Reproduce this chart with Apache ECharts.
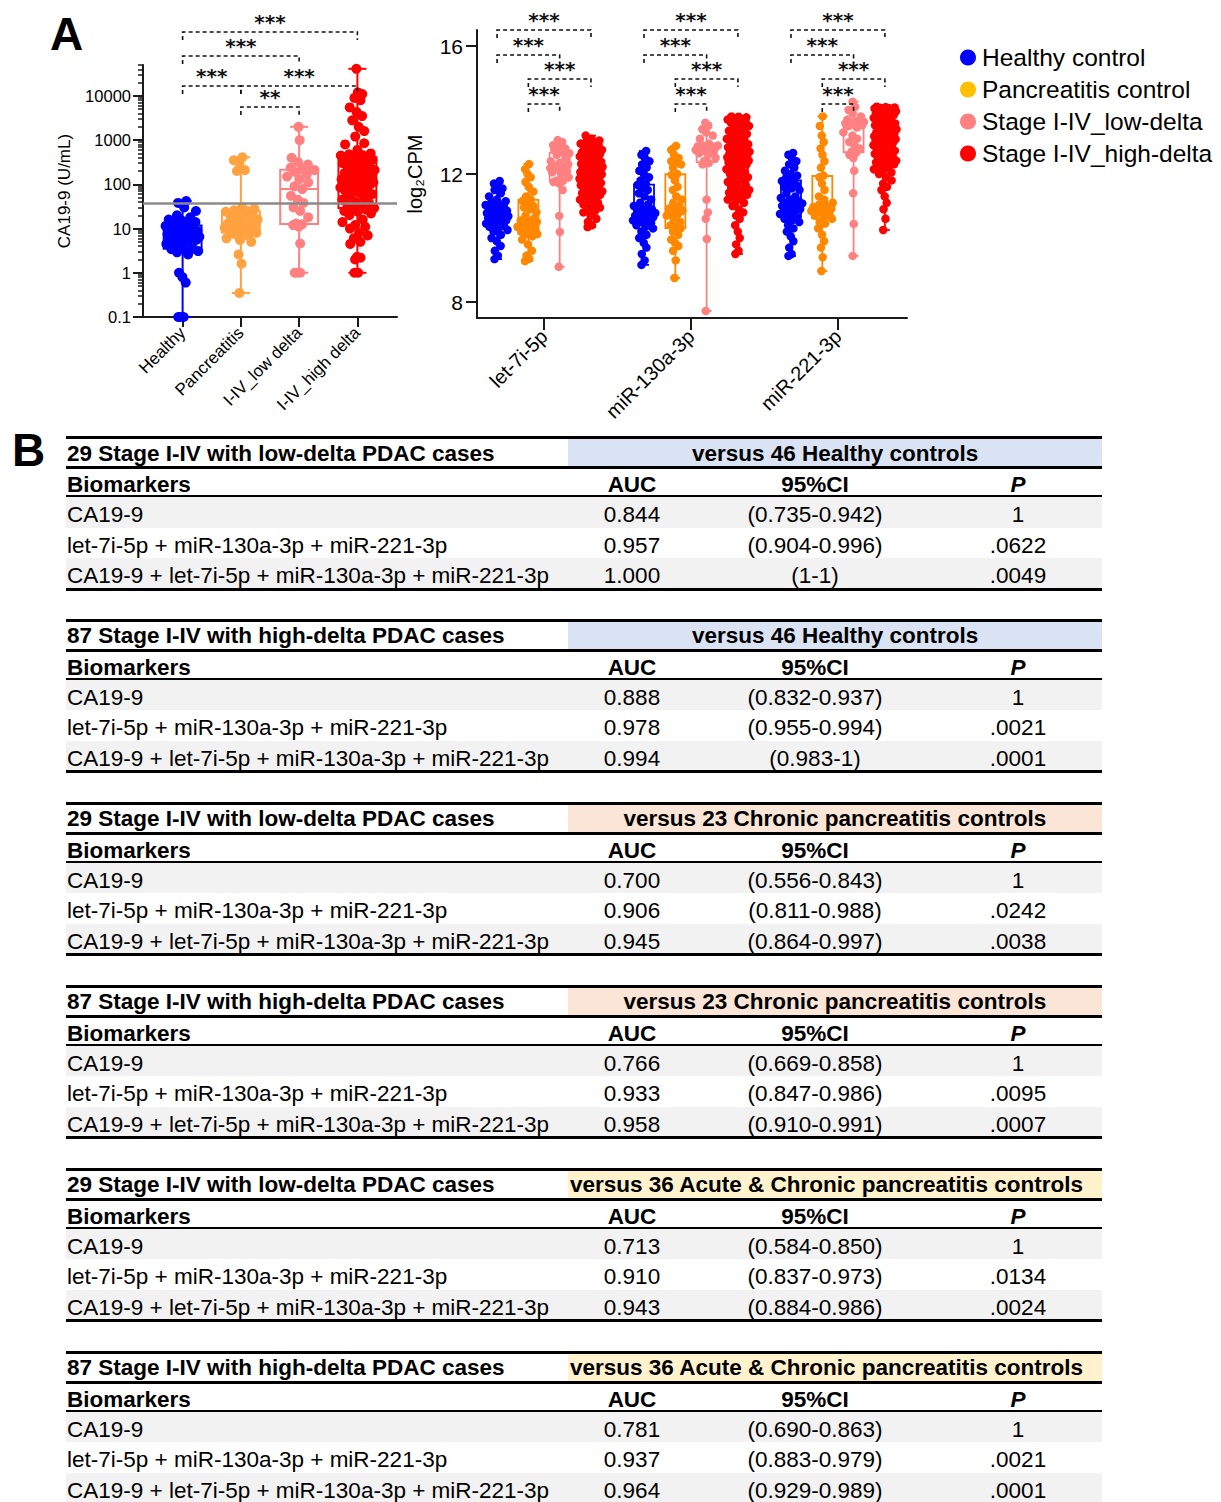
<!DOCTYPE html>
<html lang="en">
<head>
  <meta charset="utf-8">
  <title>CA19-9 and miRNA panel</title>
  <script src="https://cdn.jsdelivr.net/npm/echarts@6/dist/echarts.min.js"></script>
  <style>
    html, body { margin: 0; padding: 0; overflow: hidden; background: #fff; }
    body { width: 1221px; height: 1502px; position: relative; font-family: "Liberation Sans", Arial, sans-serif; color: #000; }
    #main { position: absolute; left: 0; top: 0; width: 1221px; height: 430px; }
    .panel { position: absolute; font-weight: bold; font-size: 46px; line-height: 46px; }
    .cell { position: absolute; height: 30px; line-height: 30px; font-size: 22.5px; white-space: nowrap; }
    .hline { position: absolute; background: #000; }
    .band { position: absolute; }
  </style>
</head>
<body>
<div id="main"></div>
<div class="panel" style="left:50px;top:11px">A</div>
<div class="panel" style="left:12px;top:427px">B</div>
<div id="tables"></div>

<script type="text/javascript">
// ---- panel A data ----
var caCategories = ['Healthy', 'Pancreatitis', 'I-IV_low delta', 'I-IV_high delta'];
var mirCategories = ['let-7i-5p', 'miR-130a-3p', 'miR-221-3p'];
var groupNames = ['Healthy control', 'Pancreatitis control', 'Stage I-IV_low-delta', 'Stage I-IV_high-delta'];
var caTicks = [0.1, 1, 10, 100, 1000, 10000];
var cpmTicks = [8, 12, 16];
var caCutoff = 37;

// CA19-9 (U/mL)
var caHealthy = [0.1, 0.1, 0.1, 0.6, 0.8, 1.0, 2.6, 2.9, 3.1, 3.3, 3.4, 3.5, 4.2, 4.5, 5.0, 5.2, 5.5, 5.8, 6.0, 6.2,
  6.4, 6.5, 6.6, 6.8, 7.0, 7.2, 7.5, 8.0, 8.3, 8.8, 9.0, 9.5, 10, 10.5, 11.5, 12.5, 13, 14, 15, 16,
  18, 20, 25, 30, 38, 42];
var caPancreatitis = [0.35, 1.6, 2.6, 5.0, 5.5, 6.0, 7.0, 7.5, 8.0, 8.5, 9.0, 9.5, 10, 10.5, 11, 11.5, 12, 12.5, 13, 14,
  15, 16, 17, 18, 20, 22, 24, 25, 26, 28, 30, 200, 210, 300, 350, 410];
var caLowDelta = [1.0, 1.0, 1.0, 4.6, 11, 12, 12.5, 13, 18, 25, 30, 38, 45, 55, 78, 90, 110, 130, 150, 170,
  190, 210, 220, 240, 280, 320, 400, 1000, 2000];
var caHighDelta = [1.0, 1.0, 2.0, 2.2, 2.3, 4.5, 5.0, 6.0, 7.0, 8.0, 10, 11, 12, 14, 16, 20, 22, 24, 25, 27,
  28, 29, 32, 35, 38, 40, 45, 50, 55, 60, 65, 70, 75, 80, 85, 90, 95, 100, 102, 104,
  106, 108, 110, 112, 115, 120, 125, 130, 140, 150, 160, 170, 180, 190, 200, 210, 220, 240, 260, 280,
  300, 320, 340, 360, 390, 410, 420, 430, 450, 460, 480, 500, 600, 800, 850, 1200, 1600, 2000, 2800, 3500,
  4300, 5500, 8000, 9000, 11000, 12000, 41000];

// log2CPM, let-7i-5p
var let7iHealthy = [9.34, 9.45, 9.6, 9.75, 9.9, 10.0, 10.1, 10.2, 10.25, 10.3, 10.35, 10.38, 10.4, 10.45, 10.5, 10.52,
  10.55, 10.6, 10.62, 10.65, 10.67, 10.68, 10.69, 10.7, 10.72, 10.75, 10.78, 10.8, 10.82, 10.85, 10.9, 10.95,
  10.98, 11.0, 11.03, 11.05, 11.1, 11.15, 11.2, 11.3, 11.4, 11.5, 11.55, 11.6, 11.7, 11.78];
var let7iPancreatitis = [9.28, 9.35, 9.45, 9.6, 9.8, 9.95, 10.05, 10.1, 10.12, 10.15, 10.2, 10.25, 10.3, 10.35, 10.4,
  10.45, 10.5, 10.52, 10.55, 10.6, 10.7, 10.8, 10.9, 10.95, 11.0, 11.1, 11.16, 11.2, 11.3, 11.45, 11.6, 11.75,
  11.9, 12.0, 12.15, 12.31];
var let7iLowDelta = [9.1, 10.19, 10.69, 11.5, 11.7, 11.75, 11.78, 11.8, 11.9, 12.0, 12.05, 12.1, 12.15, 12.18, 12.2,
  12.25, 12.3, 12.35, 12.4, 12.5, 12.6, 12.65, 12.69, 12.75, 12.8, 12.85, 12.9, 13.0, 13.06];
var let7iHighDelta = [10.34, 10.4, 10.5, 10.6, 10.7, 10.8, 10.85, 10.9, 10.95, 11.0, 11.05, 11.1, 11.15, 11.2, 11.25,
  11.3, 11.35, 11.38, 11.4, 11.42, 11.44, 11.46, 11.5, 11.55, 11.6, 11.62, 11.65, 11.68, 11.7, 11.72, 11.75, 11.78,
  11.8, 11.82, 11.85, 11.87, 11.9, 11.92, 11.94, 11.96, 11.97, 11.98, 11.99, 12.0, 12.01, 12.02, 12.04, 12.06,
  12.08, 12.1, 12.12, 12.14, 12.16, 12.18, 12.2, 12.22, 12.24, 12.26, 12.28, 12.3, 12.32, 12.34, 12.36, 12.38,
  12.4, 12.45, 12.5, 12.52, 12.55, 12.58, 12.6, 12.62, 12.65, 12.68, 12.7, 12.72, 12.75, 12.8, 12.85, 12.9,
  12.92, 12.95, 12.98, 13.0, 13.05, 13.1, 13.2];

// log2CPM, miR-130a-3p
var mir130aHealthy = [9.16, 9.3, 9.5, 9.7, 9.85, 10.0, 10.1, 10.2, 10.3, 10.35, 10.4, 10.47, 10.5, 10.55, 10.6, 10.62,
  10.65, 10.68, 10.7, 10.72, 10.75, 10.78, 10.82, 10.86, 10.9, 10.95, 11.0, 11.05, 11.1, 11.2, 11.3, 11.4, 11.5,
  11.55, 11.66, 11.7, 11.8, 11.9, 12.0, 12.1, 12.2, 12.3, 12.4, 12.5, 12.6, 12.72];
var mir130aPancreatitis = [8.75, 9.3, 9.6, 9.75, 9.85, 9.95, 10.1, 10.2, 10.3, 10.35, 10.4, 10.5, 10.6, 10.7, 10.75,
  10.8, 10.85, 10.9, 10.92, 11.0, 11.1, 11.2, 11.3, 11.5, 11.6, 11.8, 11.97, 12.0, 12.2, 12.3, 12.35, 12.4, 12.5,
  12.6, 12.75, 12.88];
var mir130aLowDelta = [7.72, 9.97, 10.6, 10.8, 11.2, 12.3, 12.34, 12.4, 12.5, 12.6, 12.65, 12.7, 12.72, 12.75, 12.8,
  12.82, 12.84, 12.86, 12.87, 12.87, 12.88, 12.89, 12.95, 13.1, 13.2, 13.3, 13.4, 13.5, 13.6];
var mir130aHighDelta = [9.5, 9.6, 9.8, 10.0, 10.2, 10.4, 10.6, 10.7, 10.8, 10.9, 11.0, 11.1, 11.15, 11.2, 11.25, 11.3,
  11.35, 11.4, 11.42, 11.45, 11.47, 11.5, 11.55, 11.6, 11.65, 11.7, 11.75, 11.8, 11.85, 11.9, 11.95, 12.0, 12.05,
  12.1, 12.15, 12.2, 12.25, 12.3, 12.33, 12.36, 12.38, 12.4, 12.42, 12.44, 12.46, 12.48, 12.5, 12.52, 12.55, 12.58,
  12.6, 12.62, 12.64, 12.66, 12.68, 12.7, 12.72, 12.75, 12.78, 12.8, 12.83, 12.86, 12.9, 12.93, 12.96, 13.0, 13.03,
  13.06, 13.1, 13.15, 13.2, 13.25, 13.3, 13.35, 13.4, 13.45, 13.5, 13.55, 13.6, 13.65, 13.68, 13.7, 13.72, 13.75,
  13.77, 13.79, 13.8];

// log2CPM, miR-221-3p
var mir221Healthy = [9.44, 9.5, 9.7, 9.9, 10.05, 10.2, 10.3, 10.4, 10.5, 10.55, 10.6, 10.66, 10.7, 10.75, 10.8, 10.85,
  10.9, 10.95, 11.0, 11.02, 11.05, 11.08, 11.1, 11.12, 11.15, 11.2, 11.25, 11.3, 11.4, 11.5, 11.55, 11.6, 11.65,
  11.7, 11.78, 11.85, 11.9, 11.95, 12.0, 12.1, 12.2, 12.3, 12.4, 12.5, 12.6, 12.66];
var mir221Pancreatitis = [8.97, 9.4, 9.7, 9.9, 10.1, 10.3, 10.45, 10.5, 10.6, 10.65, 10.7, 10.75, 10.8, 10.85, 10.88,
  10.9, 10.92, 10.95, 10.97, 11.0, 11.05, 11.1, 11.2, 11.3, 11.5, 11.7, 11.9, 11.95, 12.2, 12.4, 12.6, 12.8, 13.0,
  13.2, 13.5, 13.8];
var mir221LowDelta = [9.44, 10.44, 11.4, 12.1, 12.5, 12.6, 12.66, 12.7, 12.8, 12.9, 13.0, 13.1, 13.2, 13.3, 13.45,
  13.5, 13.52, 13.55, 13.58, 13.6, 13.62, 13.63, 13.65, 13.7, 13.8, 13.9, 14.0, 14.1, 14.26];
var mir221HighDelta = [10.25, 10.6, 10.9, 11.1, 11.3, 11.5, 11.6, 11.7, 11.8, 11.9, 12.0, 12.05, 12.1, 12.15, 12.2,
  12.25, 12.3, 12.33, 12.36, 12.38, 12.4, 12.42, 12.45, 12.5, 12.55, 12.6, 12.63, 12.66, 12.7, 12.73, 12.76, 12.8,
  12.83, 12.86, 12.9, 12.93, 12.96, 13.0, 13.02, 13.04, 13.06, 13.08, 13.09, 13.1, 13.12, 13.14, 13.16, 13.18, 13.2,
  13.22, 13.25, 13.28, 13.3, 13.33, 13.36, 13.4, 13.42, 13.45, 13.48, 13.5, 13.52, 13.54, 13.56, 13.58, 13.6, 13.62,
  13.65, 13.7, 13.75, 13.8, 13.82, 13.85, 13.87, 13.9, 13.92, 13.94, 13.96, 13.98, 14.0, 14.02, 14.03, 14.05, 14.06,
  14.07, 14.08, 14.09, 14.1];

// ---- panel B data ----
var tableCases = ['29 Stage I-IV with low-delta PDAC cases', '87 Stage I-IV with high-delta PDAC cases',
  '29 Stage I-IV with low-delta PDAC cases', '87 Stage I-IV with high-delta PDAC cases',
  '29 Stage I-IV with low-delta PDAC cases', '87 Stage I-IV with high-delta PDAC cases'];
var tableControls = ['versus 46 Healthy controls', 'versus 46 Healthy controls',
  'versus 23 Chronic pancreatitis controls', 'versus 23 Chronic pancreatitis controls',
  'versus 36 Acute & Chronic pancreatitis controls', 'versus 36 Acute & Chronic pancreatitis controls'];
var biomarkers = ['CA19-9', 'let-7i-5p + miR-130a-3p + miR-221-3p', 'CA19-9 + let-7i-5p + miR-130a-3p + miR-221-3p'];
var aucValues = [['0.844', '0.957', '1.000'], ['0.888', '0.978', '0.994'], ['0.700', '0.906', '0.945'],
  ['0.766', '0.933', '0.958'], ['0.713', '0.910', '0.943'], ['0.781', '0.937', '0.964']];
var ciValues = [['(0.735-0.942)', '(0.904-0.996)', '(1-1)'], ['(0.832-0.937)', '(0.955-0.994)', '(0.983-1)'],
  ['(0.556-0.843)', '(0.811-0.988)', '(0.864-0.997)'], ['(0.669-0.858)', '(0.847-0.986)', '(0.910-0.991)'],
  ['(0.584-0.850)', '(0.837-0.973)', '(0.884-0.986)'], ['(0.690-0.863)', '(0.883-0.979)', '(0.929-0.989)']];
var pValues = [['1', '.0622', '.0049'], ['1', '.0021', '.0001'], ['1', '.0242', '.0038'],
  ['1', '.0095', '.0007'], ['1', '.0134', '.0024'], ['1', '.0021', '.0001']];

// ---- styles ----
var caColors = ['#0000ff', '#ffa23f', '#ff8080', '#ff0000'];
var mirColors = ['#0000ff', '#ff8800', '#ff8080', '#ff0000'];
var legendColors = ['#0000ff', '#ffc000', '#ff8080', '#ff0000'];
var controlBg = ['#dae3f3', '#dae3f3', '#fbe5d6', '#fbe5d6', '#fff2cc', '#fff2cc'];
var FONT = '"Liberation Sans", Arial, sans-serif';

// quartiles, (n+1) method
function quant(s, p) {
  var pos = p * (s.length + 1) - 1;
  if (pos <= 0) return s[0];
  if (pos >= s.length - 1) return s[s.length - 1];
  var lo = Math.floor(pos);
  return s[lo] + (pos - lo) * (s[lo + 1] - s[lo]);
}
function boxStats(vals) {
  var s = vals.slice().sort(function (a, b) { return a - b; });
  return [s[0], quant(s, 0.25), quant(s, 0.5), quant(s, 0.75), s[s.length - 1]];
}
// horizontal scatter: wider where points are dense
function spread(vals, half, win, full) {
  return vals.map(function (v, i) {
    var n = 0;
    vals.forEach(function (w) { if (Math.abs(w - v) < win) n++; });
    var s = Math.min(1, n / full);
    var u = ((i * 0.618034) % 1) * 2 - 1;
    return u * s * half;
  });
}

function boxRenderer(colors, halfW, capW, lw) {
  return function (params, api) {
    var x = api.value(0);
    var lo = api.coord([x, api.value(1)]), q1 = api.coord([x, api.value(2)]);
    var md = api.coord([x, api.value(3)]), q3 = api.coord([x, api.value(4)]);
    var hi = api.coord([x, api.value(5)]);
    var xl = api.coord([x - halfW, api.value(3)])[0], xr = api.coord([x + halfW, api.value(3)])[0];
    var cl = api.coord([x - capW, api.value(3)])[0], cr = api.coord([x + capW, api.value(3)])[0];
    var st = { stroke: colors[api.value(6)], lineWidth: lw, fill: 'none' };
    return {
      type: 'group', children: [
        { type: 'rect', shape: { x: xl, y: q3[1], width: xr - xl, height: q1[1] - q3[1] }, style: st },
        { type: 'line', shape: { x1: xl, y1: md[1], x2: xr, y2: md[1] }, style: st },
        { type: 'line', shape: { x1: lo[0], y1: lo[1], x2: lo[0], y2: q1[1] }, style: st },
        { type: 'line', shape: { x1: hi[0], y1: q3[1], x2: hi[0], y2: hi[1] }, style: st },
        { type: 'line', shape: { x1: cl, y1: lo[1], x2: cr, y2: lo[1] }, style: st },
        { type: 'line', shape: { x1: cl, y1: hi[1], x2: cr, y2: hi[1] }, style: st }
      ]
    };
  };
}

function bracketRenderer(list) {
  return function (params, api) {
    var b = list[params.dataIndex];
    var xa = api.coord([b.from, 10])[0], xb = api.coord([b.to, 10])[0];
    var st = { stroke: '#111', lineWidth: 1.6, lineDash: [4, 3], fill: 'none' };
    return {
      type: 'group', children: [
        { type: 'polyline', shape: { points: [[xa, b.y + 8], [xa, b.y], [xb, b.y], [xb, b.y + 8]] }, style: st },
        { type: 'text', x: (xa + xb) / 2, y: b.y - 10,
          style: { text: b.label, fill: '#111', fontSize: 20, lineHeight: 20, fontWeight: 'bold',
            fontFamily: '"DejaVu Sans", sans-serif',
            align: 'center', verticalAlign: 'middle', textAlign: 'center', textVerticalAlign: 'middle' } }
      ]
    };
  };
}

var caGroups = [caHealthy, caPancreatitis, caLowDelta, caHighDelta];
var mirGroups = [
  [let7iHealthy, mir130aHealthy, mir221Healthy],
  [let7iPancreatitis, mir130aPancreatitis, mir221Pancreatitis],
  [let7iLowDelta, mir130aLowDelta, mir221LowDelta],
  [let7iHighDelta, mir130aHighDelta, mir221HighDelta]
];
var IN_GROUP = 0.213; // spacing of the four boxes inside a miRNA group (axis units)
function mirX(m, g) { return m + (g - 1.5) * IN_GROUP; }

var series = [];
// left chart: log10 of CA19-9 on a value axis
series.push({
  type: 'scatter', xAxisIndex: 0, yAxisIndex: 0, data: [], silent: true, z: 1,
  markLine: { silent: true, symbol: 'none', label: { show: false },
    lineStyle: { color: '#8a8a8a', width: 2.5, type: 'solid' },
    data: [{ yAxis: Math.log10(caCutoff) }] }
});
var caBoxData = [];
caGroups.forEach(function (vals, g) {
  var logs = vals.map(Math.log10);
  var dx = spread(logs, 0.3, 0.3, 12);
  series.push({
    type: 'scatter', name: groupNames[g], xAxisIndex: 0, yAxisIndex: 0, clip: false, silent: true, z: 2,
    symbolSize: 10, itemStyle: { color: caColors[g], opacity: 1 },
    data: logs.map(function (v, i) { return [g + dx[i], v]; })
  });
  var st = boxStats(vals).map(Math.log10);
  caBoxData.push([g].concat(st).concat([g]));
});
series.push({ type: 'custom', xAxisIndex: 0, yAxisIndex: 0, z: 3, silent: true,
  renderItem: boxRenderer(caColors, 0.325, 0.155, 2), data: caBoxData });

// right chart
var mirBoxData = [];
mirGroups.forEach(function (perMir, g) {
  var pts = [];
  perMir.forEach(function (vals, m) {
    var dx = spread(vals, 0.08, 0.35, 14);
    vals.forEach(function (v, i) { pts.push([mirX(m, g) + dx[i], v]); });
    mirBoxData.push([mirX(m, g)].concat(boxStats(vals)).concat([g]));
  });
  series.push({
    type: 'scatter', name: groupNames[g], xAxisIndex: 1, yAxisIndex: 2, clip: false, silent: true, z: 2,
    symbolSize: 8.5, itemStyle: { color: mirColors[g], opacity: 1 }, data: pts
  });
});
series.push({ type: 'custom', xAxisIndex: 1, yAxisIndex: 2, z: 3, silent: true,
  renderItem: boxRenderer(mirColors, 0.068, 0.034, 1.8), data: mirBoxData });

// significance brackets (pixel heights are layout)
var caBrackets = [
  { from: 0, to: 3, y: 32, label: '***' }, { from: 0, to: 2, y: 56, label: '***' },
  { from: 0, to: 1, y: 86, label: '***' }, { from: 1, to: 3, y: 86, label: '***' },
  { from: 1, to: 2, y: 107, label: '**' }
];
var mirBrackets = [];
[0, 1, 2].forEach(function (m) {
  mirBrackets.push({ from: mirX(m, 0), to: mirX(m, 3), y: 30, label: '***' });
  mirBrackets.push({ from: mirX(m, 0), to: mirX(m, 2), y: 55, label: '***' });
  mirBrackets.push({ from: mirX(m, 1), to: mirX(m, 3), y: 79, label: '***' });
  mirBrackets.push({ from: mirX(m, 1), to: mirX(m, 2), y: 104, label: '***' });
});
series.push({ type: 'custom', xAxisIndex: 0, yAxisIndex: 0, z: 4, silent: true, clip: false,
  renderItem: bracketRenderer(caBrackets), data: caBrackets.map(function (b) { return [b.from, 1]; }) });
series.push({ type: 'custom', xAxisIndex: 1, yAxisIndex: 2, z: 4, silent: true, clip: false,
  renderItem: bracketRenderer(mirBrackets), data: mirBrackets.map(function (b) { return [b.from, 12]; }) });

var minorTicks = [];
for (var e = -1; e <= 4; e++) {
  for (var k = 2; k <= 9; k++) {
    var t = Math.log10(k) + e;
    if (t <= Math.log10(50000) + 1e-9) minorTicks.push(t);
  }
}

var axisLine = { show: true, onZero: false, lineStyle: { color: '#1a1a1a', width: 2 } };
var option = {
  animation: false,
  textStyle: { fontFamily: FONT },
  grid: [
    { left: 143, top: 65, width: 254, height: 252 },
    { left: 477, top: 30, width: 430, height: 288 }
  ],
  legend: {
    orient: 'vertical', left: 955, top: 40, itemWidth: 16, itemHeight: 16, itemGap: 7, icon: 'circle',
    selectedMode: false,
    textStyle: { fontSize: 24.5, color: '#000', fontFamily: FONT, padding: [0, 0, 0, 1] },
    data: groupNames.map(function (n, i) { return { name: n, itemStyle: { color: legendColors[i] } }; })
  },
  xAxis: [
    { gridIndex: 0, type: 'value', min: -0.68, max: 3.68, splitLine: { show: false }, axisLine: axisLine,
      axisTick: { customValues: [0, 1, 2, 3], length: 10, lineStyle: { color: '#1a1a1a', width: 2 } },
      axisLabel: { customValues: [0, 1, 2, 3], formatter: function (v) { return caCategories[Math.round(v)]; },
        rotate: 45, fontSize: 17, color: '#000', margin: 13 } },
    { gridIndex: 1, type: 'value', min: -0.456, max: 2.47, splitLine: { show: false }, axisLine: axisLine,
      axisTick: { customValues: [0, 1, 2], length: 12, lineStyle: { color: '#1a1a1a', width: 2 } },
      axisLabel: { customValues: [0, 1, 2], formatter: function (v) { return mirCategories[Math.round(v)]; },
        rotate: 45, fontSize: 20, color: '#000', margin: 15 } }
  ],
  yAxis: [
    { gridIndex: 0, type: 'value', position: 'left', min: -1, max: Math.log10(50000), splitLine: { show: false },
      axisLine: axisLine,
      axisTick: { customValues: caTicks.map(Math.log10), length: 10, lineStyle: { color: '#1a1a1a', width: 2 } },
      axisLabel: { customValues: caTicks.map(Math.log10), fontSize: 16.5, color: '#000', margin: 12,
        formatter: function (v) { return String(+Math.pow(10, v).toPrecision(6)); } },
      name: 'CA19-9 (U/mL)', nameLocation: 'middle', nameRotate: 90, nameGap: 70,
      nameTextStyle: { fontSize: 17, color: '#000' } },
    { gridIndex: 0, type: 'value', position: 'left', offset: 0, min: -1, max: Math.log10(50000),
      splitLine: { show: false }, axisLine: { show: false, onZero: false }, axisLabel: { show: false },
      axisTick: { customValues: minorTicks, length: 5, lineStyle: { color: '#1a1a1a', width: 1.5 } } },
    { gridIndex: 1, type: 'value', min: 7.5, max: 16.5, splitLine: { show: false }, axisLine: axisLine,
      axisTick: { customValues: cpmTicks, length: 11, lineStyle: { color: '#1a1a1a', width: 2 } },
      axisLabel: { customValues: cpmTicks, fontSize: 21, color: '#000', margin: 14 },
      name: 'log\u2082CPM', nameLocation: 'middle', nameRotate: 90, nameGap: 52,
      nameTextStyle: { fontSize: 20, color: '#000' } }
  ],
  series: series
};

var chart = echarts.init(document.getElementById('main'), null, { renderer: 'svg' });
chart.setOption(option);

// ---- panel B tables ----
var box = document.getElementById('tables');
function add(cls, css, text) {
  var d = document.createElement('div');
  d.className = cls;
  d.style.cssText = css;
  if (text != null) d.textContent = text;
  box.appendChild(d);
  return d;
}
var X0 = 66, XS = 568, XR = 1102;
var cols = [[568, 128], [696, 238], [934, 168]];
tableCases.forEach(function (title, k) {
  var T = 437.5 + 182.9 * k;
  add('band', 'left:' + XS + 'px;top:' + T + 'px;width:' + (XR - XS) + 'px;height:30px;background:' + controlBg[k] + ';');
  [0, 2].forEach(function (r) {
    add('band', 'left:' + X0 + 'px;top:' + (T + 59.5 + 30.5 * r) + 'px;width:' + (XR - X0) + 'px;height:30.5px;background:#f2f2f2;');
  });
  add('hline', 'left:' + X0 + 'px;top:' + (T - 1.5) + 'px;width:' + (XR - X0) + 'px;height:3px;');
  add('hline', 'left:' + X0 + 'px;top:' + (T + 28.5) + 'px;width:' + (XR - X0) + 'px;height:3px;');
  add('hline', 'left:' + X0 + 'px;top:' + (T + 57.5) + 'px;width:' + (XR - X0) + 'px;height:2px;');
  add('hline', 'left:' + X0 + 'px;top:' + (T + 150) + 'px;width:' + (XR - X0) + 'px;height:3px;');

  add('cell', 'left:' + (X0 + 1) + 'px;top:' + (T + 1) + 'px;font-weight:bold;', title);
  var ctl = add('cell', 'left:' + XS + 'px;top:' + (T + 1) + 'px;font-weight:bold;', tableControls[k]);
  // centred in the coloured band unless it nearly fills it, then set against its left edge
  var w = ctl.offsetWidth, room = XR - XS;
  ctl.style.left = (w > room - 40 ? XS + 2 : XS + (room - w) / 2) + 'px';
  add('cell', 'left:' + (X0 + 1) + 'px;top:' + (T + 32.5) + 'px;font-weight:bold;', 'Biomarkers');
  ['AUC', '95%CI', 'P'].forEach(function (h, c) {
    add('cell', 'left:' + cols[c][0] + 'px;top:' + (T + 32.5) + 'px;width:' + cols[c][1] + 'px;text-align:center;font-weight:bold;' + (c === 2 ? 'font-style:italic;' : ''), h);
  });
  biomarkers.forEach(function (b, r) {
    var y = T + 59.5 + 30.5 * r + 3;
    add('cell', 'left:' + (X0 + 1) + 'px;top:' + y + 'px;', b);
    [aucValues[k][r], ciValues[k][r], pValues[k][r]].forEach(function (v, c) {
      add('cell', 'left:' + cols[c][0] + 'px;top:' + y + 'px;width:' + cols[c][1] + 'px;text-align:center;', v);
    });
  });
});
</script>
</body>
</html>
